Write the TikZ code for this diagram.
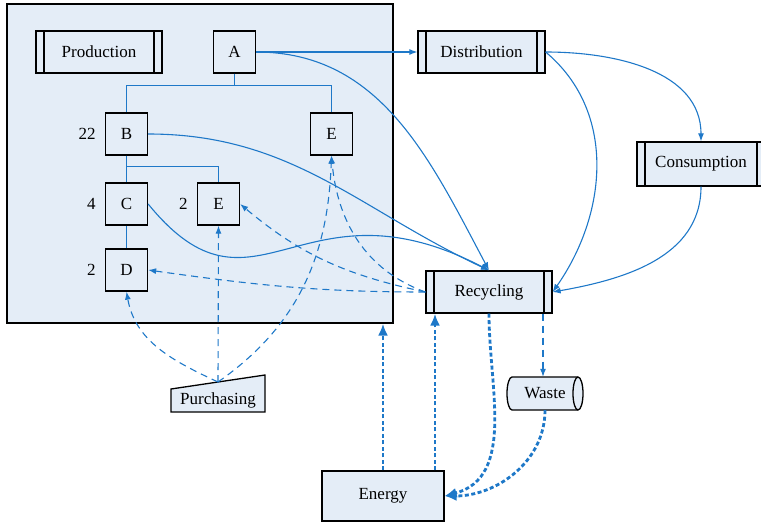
\documentclass[tikz,border=0pt]{standalone}
\usepackage{fontspec}
\setmainfont{Liberation Serif}
\usetikzlibrary{arrows.meta,positioning}
\definecolor{flowblue}{RGB}{30,120,200}
\definecolor{boxfill}{RGB}{228,237,247}

\begin{document}
\begin{tikzpicture}[x=1pt,y=-1pt,
  font=\fontsize{17}{20}\selectfont,
  box/.style={draw,fill=boxfill,line width=1.3pt,minimum size=42pt,inner sep=0pt},
  proc/.style={draw,fill=boxfill,line width=1.3pt,minimum height=42pt,inner sep=0pt,
    path picture={\draw[line width=1.3pt]
      ([xshift=8pt]path picture bounding box.north west) -- ([xshift=8pt]path picture bounding box.south west)
      ([xshift=-8pt]path picture bounding box.north east) -- ([xshift=-8pt]path picture bounding box.south east);}},
  outline/.style={draw,fill=boxfill,line width=1.3pt},
  num/.style={inner sep=3pt},
  tree/.style={flowblue,line width=1.1pt},
  flow/.style={flowblue,line width=1.1pt,-{Latex[length=8pt,width=6pt]}},
  buy/.style={flow,dash pattern=on 7pt off 5pt},
  power/.style={flowblue,line width=2.8pt,dash pattern=on 4pt off 2.5pt,-{Latex[length=12pt,width=10pt]}}
]
  \useasboundingbox (0,0) rectangle (761,525);

  % production area
  \node[draw,fill=boxfill,line width=1.3pt,minimum width=386pt,minimum height=319pt] (area) at (200,163.5) {};

  \node[proc,minimum width=126pt]	(prod)	at (99,52)	{Production};
  \node[box]			(a)	at (234.5,52)	{A};
  \node[box]			(b)	at (126.5,134)	{B};
  \node[box]			(e1)	at (331.5,134)	{E};
  \node[box]			(c)	at (126.5,204)	{C};
  \node[box]			(e2)	at (218.5,204)	{E};
  \node[box]			(d)	at (126.5,270)	{D};

  \node[num] (nb) [left=6pt of b]	{22};
  \node[num] (nc) [left=6pt of c]	{4};
  \node[num] (ne) [left=6pt of e2]	{2};
  \node[num] (nd) [left=6pt of d]	{2};

  \node[proc,minimum width=127pt]	(dist)	at (481.5,52)	{Distribution};
  \node[proc,minimum width=128pt,minimum height=44pt]	(cons)	at (701,164)	{Consumption};
  \node[proc,minimum width=126pt]	(rec)	at (489,292)	{Recycling};
  \node[box,minimum width=122pt,minimum height=50pt]	(ene)	at (383,496)	{Energy};

  % purchasing (manual input) and waste (drum)
  \coordinate (purc) at (218,400);
  \draw[outline] ([shift={(-47,12)}]purc) -- ([shift={(47,12)}]purc)
    -- ([shift={(47,-25)}]purc) -- ([shift={(-47,-11)}]purc) -- cycle;
  \node (pur) at (purc) {Purchasing};
  \coordinate (wstc) at (545,393.5);
  \draw[outline] ([shift={(-33,-16.5)}]wstc) -- ([shift={(33,-16.5)}]wstc)
    arc[start angle=90,end angle=-90,x radius=5pt,y radius=16.5pt]
    -- ([shift={(-33,16.5)}]wstc)
    arc[start angle=-90,end angle=-270,x radius=5pt,y radius=16.5pt] -- cycle;
  \draw[line width=1.3pt] ([shift={(33,-16.5)}]wstc) arc[start angle=90,end angle=270,x radius=5pt,y radius=16.5pt];
  \node[minimum width=76pt,minimum height=33pt,inner sep=0pt] (wst) at (wstc) {Waste};

  \coordinate (pin) at (218,382);
  \coordinate (eneright) at ([xshift=52pt]ene.north);

  % tree
  \draw[tree] (a.south) -- ++(0,12) -| (b.north);
  \draw[tree] (a.south) -- ++(0,12) -| (e1.north);
  \draw[tree] (b.south) -- (c.north);
  \draw[tree] (b.south) -- ++(0,11) -| (e2.north);
  \draw[tree] (c.south) -- (d.north);

  % material flows
  \draw[flow] (a.east) -- (dist.west);
  \draw[flow] (a.east) to[out=0,in=118] (rec.north);
  \draw[flow] (b.east) to[out=0,in=155] (rec.north);
  \draw[flow] (c.east) .. controls (255,335) and (300,172) .. (rec.north);
  \draw[flow] (dist.east) to[out=0,in=90] (cons.north);
  \draw[flow] (dist.east) to[out=-40,in=55] (rec.east);
  \draw[flow] (cons.south) to[out=-90,in=10] (rec.east);

  \draw[buy] (rec.west) to[out=180,in=-8] (d.east);
  \draw[buy] (rec.west) to[out=168,in=-40] (e2.east);
  \draw[buy] (rec.west) to[out=160,in=-85] (e1.south);
  \draw[buy] (pin) to[out=155,in=-80] (d.south);
  \draw[buy] (pin) -- (e2.south);
  \draw[buy] (pin) to[out=35,in=-92] (e1.south);
  \draw[buy] ([xshift=-2pt]wst.north |- rec.south) -- ([xshift=-2pt]wst.north);

  % energy
  \draw[power] (ene.north) -- (ene.north |- area.south);
  \draw[power] (eneright) -- (eneright |- rec.south);
  \draw[power] (rec.south) to[out=-90,in=15] (ene.east);
  \draw[power] (wst.south) to[out=-90,in=0] (ene.east);
\end{tikzpicture}
\end{document}
